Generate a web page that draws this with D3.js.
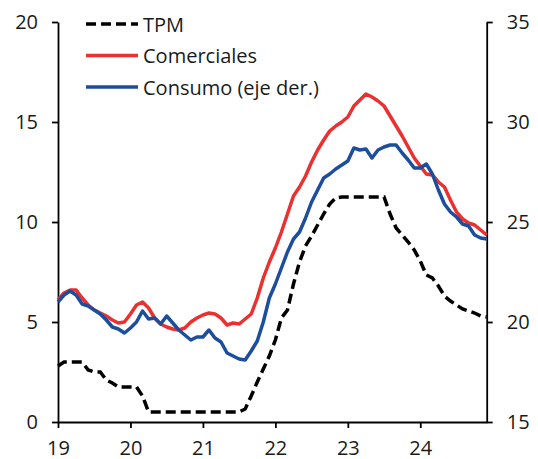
<!DOCTYPE html>
<html>
<head>
<meta charset="utf-8">
<script src="https://cdn.jsdelivr.net/npm/d3@7"></script>
<style>
  body { margin: 0; background: #fff; }
  text { font-family: "Open Sans", sans-serif; fill: #1a1a1a; }
</style>
</head>
<body>
<div id="chart"></div>
<script>
// monthly data, Jan 2019 .. Dec 2024
var startYear = 19;
var tpm = [2.8, 3.0, 3.0, 3.0, 3.0, 2.6, 2.5, 2.5, 2.1, 1.95, 1.75, 1.75,
    1.75, 1.75, 1.3, 0.5, 0.5, 0.5, 0.5, 0.5, 0.5, 0.5, 0.5, 0.5,
    0.5, 0.5, 0.5, 0.5, 0.5, 0.5, 0.5, 0.65, 1.3, 2.0, 2.65, 3.3,
    4.1, 5.2, 5.6, 6.9, 8.0, 8.8, 9.3, 9.85, 10.4, 10.9, 11.2, 11.25,
    11.25, 11.25, 11.25, 11.25, 11.25, 11.25, 11.25, 10.4, 9.7, 9.35, 9.0, 8.6,
    8.05, 7.35, 7.2, 6.8, 6.3, 6.05, 5.85, 5.65, 5.55, 5.45, 5.3, 5.25];
var comerciales = [6.1, 6.45, 6.6, 6.6, 6.2, 5.85, 5.6, 5.45, 5.3, 5.1, 4.95, 5.0,
    5.4, 5.85, 6.0, 5.7, 5.2, 4.9, 4.75, 4.65, 4.6, 4.7, 5.0, 5.2,
    5.35, 5.45, 5.4, 5.2, 4.85, 4.95, 4.9, 5.15, 5.4, 6.2, 7.2, 8.0,
    8.7, 9.5, 10.4, 11.3, 11.75, 12.3, 13.0, 13.6, 14.1, 14.55, 14.8, 15.0,
    15.25, 15.8, 16.1, 16.4, 16.25, 16.05, 15.8, 15.3, 14.8, 14.3, 13.75, 13.2,
    12.8, 12.4, 12.35, 12.0, 11.75, 11.1, 10.5, 10.15, 9.95, 9.85, 9.6, 9.35];
// consumo is read on the right axis
var consumo = [21.0, 21.35, 21.55, 21.35, 20.9, 20.8, 20.6, 20.4, 20.1, 19.75, 19.65, 19.45,
    19.7, 20.0, 20.55, 20.15, 20.2, 19.9, 20.3, 19.95, 19.6, 19.35, 19.1, 19.25,
    19.25, 19.6, 19.2, 19.0, 18.45, 18.3, 18.15, 18.1, 18.55, 19.05, 20.0, 21.2,
    21.9, 22.7, 23.5, 24.15, 24.5, 25.2, 26.0, 26.6, 27.2, 27.4, 27.65, 27.85,
    28.05, 28.7, 28.6, 28.65, 28.2, 28.6, 28.75, 28.85, 28.85, 28.45, 28.1, 27.7,
    27.7, 27.9, 27.4, 26.6, 25.9, 25.5, 25.25, 24.9, 24.8, 24.35, 24.2, 24.15];

var leftTicks = [0, 5, 10, 15, 20];
var rightTicks = [15, 20, 25, 30, 35];
var xTicks = [19, 20, 21, 22, 23, 24];
var seriesNames = ["TPM", "Comerciales", "Consumo (eje der.)"];
var colors = ["#000000", "#ec2f2f", "#1d4e9e"];

var width = 538, height = 459;
var plotLeft = 58, plotRight = 486.7, plotTop = 22, plotBottom = 422;

var svg = d3.select("#chart").append("svg")
    .attr("width", width)
    .attr("height", height);

var x = d3.scaleLinear().domain([startYear, startYear + (tpm.length - 1) / 12]).range([plotLeft, plotRight]);
var yL = d3.scaleLinear().domain([0, 20]).range([plotBottom, plotTop]);
var yR = d3.scaleLinear().domain([15, 35]).range([plotBottom, plotTop]);

function styleAxis(g) {
    g.select(".domain").attr("stroke", "#000").attr("stroke-width", 1.8);
    g.selectAll(".tick line").attr("stroke", "#000").attr("stroke-width", 1.8);
    g.selectAll("text").attr("font-size", 20).attr("font-family", "Open Sans, sans-serif").attr("fill", "#1a1a1a");
}

svg.append("g")
    .attr("transform", "translate(" + plotLeft + ",0)")
    .call(d3.axisLeft(yL).tickValues(leftTicks).tickSize(6).tickSizeOuter(0).tickPadding(14))
    .call(styleAxis);

svg.append("g")
    .attr("transform", "translate(" + plotRight + ",0)")
    .call(d3.axisRight(yR).tickValues(rightTicks).tickSize(6).tickSizeOuter(0).tickPadding(14))
    .call(styleAxis);

svg.append("g")
    .attr("transform", "translate(0," + plotBottom + ")")
    .call(d3.axisBottom(x).tickValues(xTicks).tickFormat(d3.format("d")).tickSize(6).tickSizeOuter(0).tickPadding(13))
    .call(styleAxis);

var lineL = d3.line()
    .x(function(d, i) { return x(startYear + i / 12); })
    .y(function(d) { return yL(d); });
var lineR = d3.line()
    .x(function(d, i) { return x(startYear + i / 12); })
    .y(function(d) { return yR(d); });

svg.append("path").datum(tpm)
    .attr("d", lineL)
    .attr("fill", "none")
    .attr("stroke", colors[0])
    .attr("stroke-width", 3.5)
    .attr("stroke-dasharray", "10,5");

svg.append("path").datum(comerciales)
    .attr("d", lineL)
    .attr("fill", "none")
    .attr("stroke", colors[1])
    .attr("stroke-width", 3.5)
    .attr("stroke-linejoin", "round");

svg.append("path").datum(consumo)
    .attr("d", lineR)
    .attr("fill", "none")
    .attr("stroke", colors[2])
    .attr("stroke-width", 3.5)
    .attr("stroke-linejoin", "round");

// legend
var legend = svg.append("g").selectAll("g")
    .data(seriesNames)
    .enter().append("g")
    .attr("transform", function(d, i) { return "translate(86," + (24 + i * 31.5) + ")"; });

legend.append("line")
    .attr("x1", 0).attr("x2", 52)
    .attr("stroke", function(d, i) { return colors[i]; })
    .attr("stroke-width", 3.5)
    .attr("stroke-dasharray", function(d, i) { return i == 0 ? "10,5" : null; });

legend.append("text")
    .attr("x", 57)
    .attr("y", 7.5)
    .attr("font-size", 20)
    .text(function(d) { return d; });
</script>
</body>
</html>
